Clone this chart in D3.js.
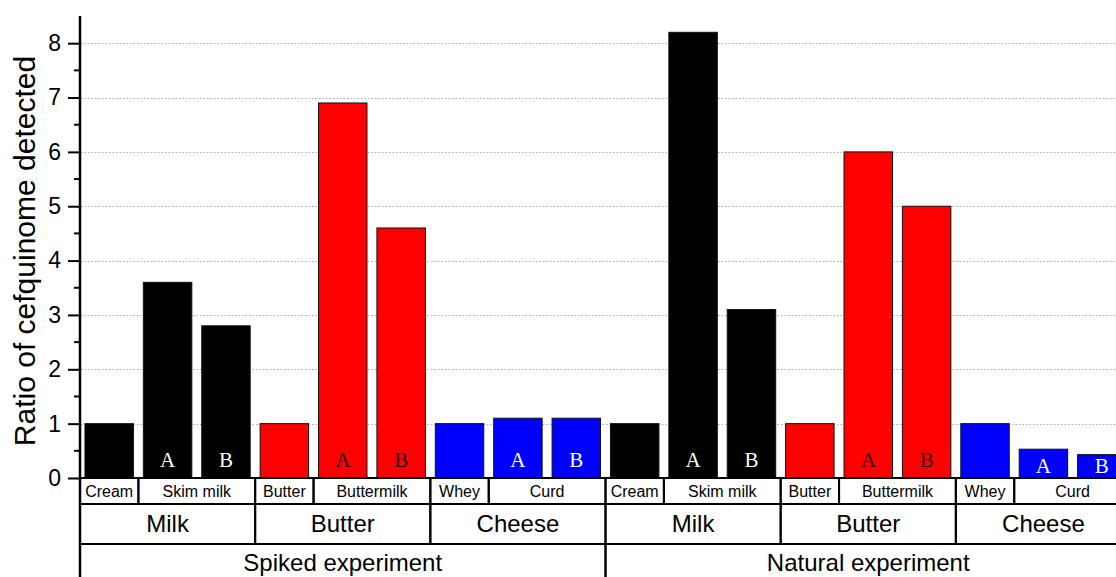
<!DOCTYPE html>
<html>
<head>
<meta charset="utf-8">
<script src="https://cdn.jsdelivr.net/npm/d3@7"></script>
<style>
  html, body { margin: 0; padding: 0; background: #fff; }
  svg { display: block; }
</style>
</head>
<body>
<svg id="chart" width="1116" height="577"></svg>
<script>
// Per-experiment layout of the nine bars
const experiments = ["Spiked experiment", "Natural experiment"];
const groups = ["Milk", "Milk", "Milk", "Butter", "Butter", "Butter", "Cheese", "Cheese", "Cheese"];
const fractions = ["Cream", "Skim milk", "Skim milk", "Butter", "Buttermilk", "Buttermilk", "Whey", "Curd", "Curd"];
const replicates = ["", "A", "B", "", "A", "B", "", "A", "B"];

// Ratio of cefquinome detected
const spikedValues = [1, 3.6, 2.8, 1, 6.9, 4.6, 1, 1.1, 1.1];
const naturalValues = [1, 8.2, 3.1, 1, 6.0, 5.0, 1, 0.53, 0.43];

const yTicks = [0, 1, 2, 3, 4, 5, 6, 7, 8];
const yLabel = "Ratio of cefquinome detected";

const groupColor = { Milk: "#000000", Butter: "#ff0000", Cheese: "#0000ff" };
const letterColor = { Milk: "#ffffff", Butter: "#1a0000", Cheese: "#ffffff" };

const seriesValues = [spikedValues, naturalValues];
const bars = [];
experiments.forEach((exp, ei) => {
  seriesValues[ei].forEach((v, i) => {
    bars.push({
      id: ei * 9 + i,
      experiment: exp,
      group: groups[i],
      fraction: fractions[i],
      replicate: replicates[i],
      value: v
    });
  });
});

const svg = d3.select("#chart");
const font = "'Liberation Sans', Arial, sans-serif";
const serif = "'Liberation Serif', 'Times New Roman', serif";

const x0 = 80, x1 = 1131;
const x = d3.scaleBand()
  .domain(bars.map(d => d.id))
  .range([x0, x1])
  .paddingInner(0.17)
  .paddingOuter(0.085);
const step = x.step();

const y = d3.scaleLinear().domain([0, 8.5]).range([478, 16]);

// Dotted horizontal gridlines
svg.append("g")
  .selectAll("line")
  .data(yTicks.filter(t => t > 0))
  .join("line")
  .attr("x1", x0 + 1)
  .attr("x2", x1)
  .attr("y1", d => Math.round(y(d)) + 0.5)
  .attr("y2", d => Math.round(y(d)) + 0.5)
  .attr("stroke", "#a8a8a8")
  .attr("stroke-width", 1)
  .attr("stroke-dasharray", "1.5,2");

// Bars
svg.append("g")
  .selectAll("rect")
  .data(bars)
  .join("rect")
  .attr("x", d => x(d.id))
  .attr("width", x.bandwidth())
  .attr("y", d => y(d.value))
  .attr("height", d => y(0) - y(d.value))
  .attr("fill", d => groupColor[d.group])
  .attr("stroke", "#111")
  .attr("stroke-width", 1);

// Replicate letters inside bars
svg.append("g")
  .selectAll("text")
  .data(bars.filter(d => d.replicate))
  .join("text")
  .attr("x", d => x(d.id) + x.bandwidth() / 2)
  .attr("y", d => d.value < 0.8 ? y(0) - 5 : y(0) - 11)
  .attr("text-anchor", "middle")
  .attr("font-family", serif)
  .attr("font-size", 21)
  .attr("fill", d => letterColor[d.group])
  .text(d => d.replicate);

// Y axis with major and minor ticks
const yAxis = svg.append("g")
  .attr("transform", `translate(${x0},0)`)
  .call(d3.axisLeft(y).tickValues(yTicks).tickSize(12).tickPadding(7).tickFormat(d3.format("d")));
yAxis.select(".domain").remove();
yAxis.selectAll(".tick line").attr("stroke", "#000").attr("stroke-width", 2);
yAxis.selectAll(".tick text")
  .attr("font-family", font)
  .attr("font-size", 23)
  .attr("fill", "#000");

svg.append("g")
  .selectAll("line")
  .data(d3.range(0.5, 8.5, 1))
  .join("line")
  .attr("x1", x0 - 6)
  .attr("x2", x0)
  .attr("y1", d => y(d))
  .attr("y2", d => y(d))
  .attr("stroke", "#000")
  .attr("stroke-width", 2);

svg.append("text")
  .attr("transform", `translate(35,251) rotate(-90)`)
  .attr("text-anchor", "middle")
  .attr("font-family", font)
  .attr("font-size", 30)
  .attr("fill", "#000")
  .text(yLabel);

// Category table under the axis: runs of equal keys become merged cells
function runs(keyFn) {
  const out = [];
  bars.forEach((d, i) => {
    const k = keyFn(d);
    const last = out[out.length - 1];
    if (last && last.key === k) last.end = i + 1;
    else out.push({ key: k, start: i, end: i + 1 });
  });
  return out;
}

const rows = [
  { cells: runs(d => d.experiment + "|" + d.fraction), label: c => c.key.split("|")[1], top: 478, bottom: 504, size: 16, base: 497 },
  { cells: runs(d => d.experiment + "|" + d.group), label: c => c.key.split("|")[1], top: 504, bottom: 544, size: 24, base: 532 },
  { cells: runs(d => d.experiment), label: c => c.key, top: 544, bottom: 600, size: 24, base: 571 }
];

const table = svg.append("g");
rows.forEach(row => {
  const g = table.append("g");
  g.selectAll("rect")
    .data(row.cells)
    .join("rect")
    .attr("x", c => x0 + c.start * step)
    .attr("width", c => (c.end - c.start) * step)
    .attr("y", row.top)
    .attr("height", row.bottom - row.top)
    .attr("fill", "none")
    .attr("stroke", "#000")
    .attr("stroke-width", 2);
  g.selectAll("text")
    .data(row.cells)
    .join("text")
    .attr("x", c => x0 + (c.start + c.end) / 2 * step)
    .attr("y", row.base)
    .attr("text-anchor", "middle")
    .attr("font-family", font)
    .attr("font-size", row.size)
    .attr("fill", "#000")
    .text(row.label);
});

// Axis spine drawn last, running from the top of the scale through the table
svg.append("line")
  .attr("x1", x0).attr("x2", x0)
  .attr("y1", y(8.5)).attr("y2", 577)
  .attr("stroke", "#000")
  .attr("stroke-width", 2.5);
svg.append("line")
  .attr("x1", x0).attr("x2", x1)
  .attr("y1", y(0)).attr("y2", y(0))
  .attr("stroke", "#000")
  .attr("stroke-width", 2);
</script>
</body>
</html>
